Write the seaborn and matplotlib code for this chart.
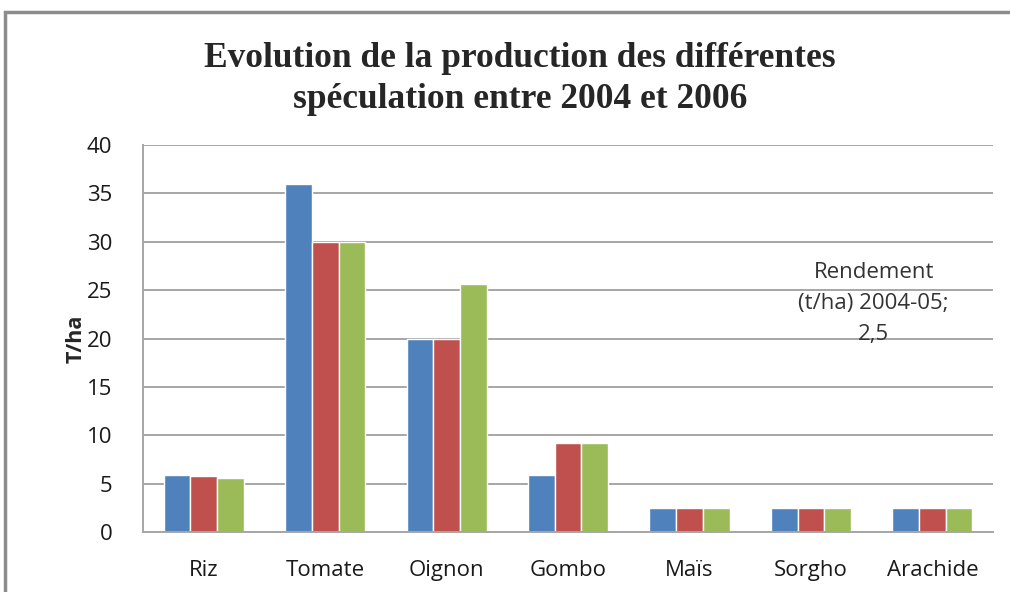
import matplotlib
matplotlib.use("Agg")
import matplotlib.pyplot as plt
import seaborn as sns
import pandas as pd
from matplotlib.patches import Rectangle

categories = ["Riz", "Tomate", "Oignon", "Gombo", "Maïs", "Sorgho", "Arachide"]
series_names = ["Rendement (t/ha) 2004-05", "Rendement (t/ha) 2005-06", "Rendement (t/ha) 2006-07"]
s2004 = [5.9, 36, 20, 5.9, 2.5, 2.5, 2.5]
s2005 = [5.8, 30, 20, 9.2, 2.5, 2.5, 2.5]
s2006 = [5.6, 30, 25.6, 9.2, 2.5, 2.5, 2.5]
colors = ["#4F81BD", "#C0504D", "#9BBB59"]
yticks = [0, 5, 10, 15, 20, 25, 30, 35, 40]

rows = []
for name, vals in zip(series_names, [s2004, s2005, s2006]):
    for c, v in zip(categories, vals):
        rows.append({"Culture": c, "Serie": name, "Valeur": v})
df = pd.DataFrame(rows)

sns.set_style("white")
plt.rcParams['font.family'] = ['Open Sans', 'DejaVu Sans']

fig = plt.figure(figsize=(10.10, 5.92), dpi=100)
ax = fig.add_axes([0.1416, 0.1014, 0.8416, 0.6536])

sns.barplot(data=df, x="Culture", y="Valeur", hue="Serie", order=categories,
            hue_order=series_names, palette=colors, width=0.66, ax=ax,
            edgecolor="white", linewidth=1.0, legend=False, saturation=1)

ax.set_ylim(0, 40)
ax.set_yticks(yticks)
ax.set_yticklabels([str(t) for t in yticks], fontsize=16, color="#1a1a1a")
ax.tick_params(axis='x', labelsize=16, colors="#1a1a1a", length=0, pad=20)
ax.tick_params(axis='y', length=0, pad=22)
ax.yaxis.grid(True, color="#A6A6A6", linewidth=1.4)
ax.set_axisbelow(True)
ax.set_xlim(-0.5, len(categories) - 0.5)
for s in ["top", "right"]:
    ax.spines[s].set_visible(False)
for s in ["left", "bottom"]:
    ax.spines[s].set_color("#A6A6A6")
    ax.spines[s].set_linewidth(1.4)
ax.set_xlabel("")
ax.set_ylabel("T/ha", fontsize=15.5, fontweight="bold", labelpad=0)

fig.text(0.515, 0.866, "Evolution de la production des différentes\nspéculation entre 2004 et 2006",
         ha="center", va="center", fontsize=25.5, fontweight="bold",
         family=["Liberation Serif", "DejaVu Serif"], linespacing=1.32)

ax.annotate("Rendement\n(t/ha) 2004-05;\n2,5", xy=(0.865, 0.488), xycoords="figure fraction",
            ha="center", va="center", fontsize=16, color="#333333", linespacing=1.62)

fig.patches.append(Rectangle((5, -300), 1200, 880, transform=None, fill=False,
                             edgecolor="#8C8C8C", linewidth=2.5, figure=fig))
fig.savefig("out.png", dpi=100)
